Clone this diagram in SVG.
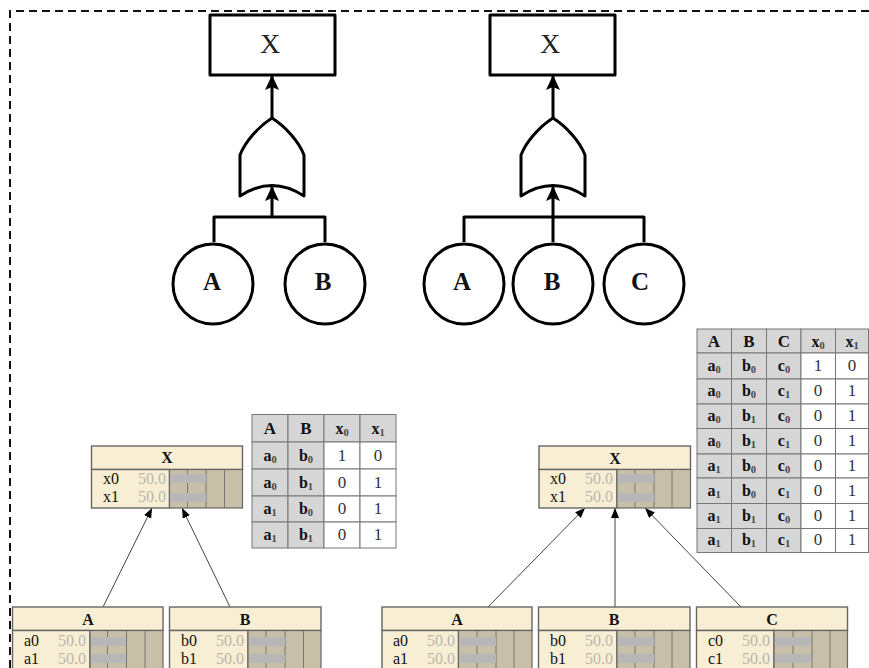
<svg xmlns="http://www.w3.org/2000/svg" width="869" height="668" viewBox="0 0 869 668">
<style>
text{font-family:"Liberation Serif","Times New Roman",serif;fill:#111}
.frame{fill:none;stroke:#111;stroke-width:2;stroke-dasharray:8 5}
.thick{fill:none;stroke:#000;stroke-width:3;stroke-linejoin:round}
.box{fill:#fff;stroke:#000;stroke-width:3;stroke-linejoin:round}
.big{font-size:28px;text-anchor:middle;fill:#222}
.ev{font-size:25px;font-weight:bold;text-anchor:middle}
.thin{fill:none;stroke:#444;stroke-width:1}
.head{fill:#f8eed3;stroke:#666;stroke-width:1.4}
.body{fill:#f8eed3;stroke:#666;stroke-width:1.4}
.panel{fill:#c7bfa7;stroke:#666;stroke-width:1.2}
.bar{fill:#b7b7b7}
.grid{stroke:#777;stroke-width:1}
.nt{font-size:16px;font-weight:bold;text-anchor:middle}
.st{font-size:16px}
.val{font-size:16px;text-anchor:end;fill:#b8b6ae}
.g{fill:#d6d6d6;stroke:#777;stroke-width:1}
.w{fill:#fff;stroke:#777;stroke-width:1}
.th{font-size:17px;font-weight:bold;text-anchor:middle}
.td{font-size:16px;font-weight:bold;text-anchor:middle}
.n{font-size:17px;text-anchor:middle;fill:#333}
.s{font-size:10.5px;fill:#444}
</style>
<defs>
<marker id="big" markerUnits="userSpaceOnUse" markerWidth="16" markerHeight="16" refX="14" refY="7" orient="auto"><path d="M0 0L15 7L0 14L3 7Z" fill="#000"/></marker>
<marker id="small" markerUnits="userSpaceOnUse" markerWidth="12" markerHeight="10" refX="10" refY="4" orient="auto"><path d="M0 0L10 4L0 8Z" fill="#000"/></marker>
<g id="orgate"><path class="box" d="M0 0C-14 9-27 24-32 37V78Q0 57 32 78V37C27 24 14 9 0 0Z"/></g>
</defs>
<rect width="869" height="668" fill="#fff"/>
<path class="frame" d="M869 11H10V668"/>

<g id="connectors">
<path class="thick" d="M272 118V76" marker-end="url(#big)"/>
<path class="thick" d="M272 217V187" marker-end="url(#big)"/>
<path class="thick" d="M214 242V217H325V242"/>
<path class="thick" d="M553 118V76" marker-end="url(#big)"/>
<path class="thick" d="M553 217V187" marker-end="url(#big)"/>
<path class="thick" d="M464 242V217H644V242M553 217V242"/>
<path class="thin" d="M103 607L152 508" marker-end="url(#small)"/>
<path class="thin" d="M230 607L182 508" marker-end="url(#small)"/>
<path class="thin" d="M488 607L585 508" marker-end="url(#small)"/>
<path class="thin" d="M615 607V508" marker-end="url(#small)"/>
<path class="thin" d="M741 607L645 508" marker-end="url(#small)"/>
</g>

<g id="fault-x-left"><rect class="box" x="210" y="15" width="125" height="60"/><text class="big" x="270" y="53">X</text></g>
<g id="fault-gate-left"><use href="#orgate" x="272" y="118"/></g>
<g id="fault-a-left"><circle class="box" cx="213" cy="284" r="40"/><text class="ev" x="212" y="290">A</text></g>
<g id="fault-b-left"><circle class="box" cx="325" cy="284" r="40"/><text class="ev" x="323" y="290">B</text></g>

<g id="fault-x-right"><rect class="box" x="490" y="15" width="125" height="60"/><text class="big" x="550" y="53">X</text></g>
<g id="fault-gate-right"><use href="#orgate" x="553" y="118"/></g>
<g id="fault-a-right"><circle class="box" cx="464" cy="284" r="40"/><text class="ev" x="462" y="290">A</text></g>
<g id="fault-b-right"><circle class="box" cx="553" cy="284" r="40"/><text class="ev" x="552" y="290">B</text></g>
<g id="fault-c-right"><circle class="box" cx="644" cy="284" r="40"/><text class="ev" x="640" y="290">C</text></g>

<g id="bn-x-left">
<rect class="head" x="91.500" y="446" width="151" height="23.500"/><rect class="body" x="91.500" y="469.500" width="78" height="38.500"/><rect class="panel" x="169.500" y="469.500" width="73" height="38.500"/>
<path class="grid" d="M187.500 470V508M206 470V508M224.500 470V508"/><rect class="bar" x="170" y="474" width="36" height="9"/><rect class="bar" x="170" y="493" width="36" height="9"/>
<text class="nt" x="167" y="463">X</text><text class="st" x="103" y="484">x0</text><text class="st" x="103" y="502">x1</text><text class="val" x="166" y="484">50.0</text><text class="val" x="166" y="502">50.0</text>
</g>
<g id="bn-a-left">
<rect class="head" x="12.500" y="607" width="150.500" height="23.500"/><rect class="body" x="12.500" y="630.500" width="77.500" height="45"/><rect class="panel" x="90" y="630.500" width="73" height="45"/>
<path class="grid" d="M107.500 631V668M126.500 631V668M145 631V668"/><rect class="bar" x="91" y="637" width="35" height="9"/><rect class="bar" x="91" y="654" width="35" height="9"/>
<text class="nt" x="88" y="625">A</text><text class="st" x="24" y="646">a0</text><text class="st" x="24" y="664">a1</text><text class="val" x="86" y="646">50.0</text><text class="val" x="86" y="664">50.0</text>
</g>
<g id="bn-b-left">
<rect class="head" x="169.500" y="607" width="151.500" height="23.500"/><rect class="body" x="169.500" y="630.500" width="78.500" height="45"/><rect class="panel" x="248" y="630.500" width="73" height="45"/>
<path class="grid" d="M266 631V668M285 631V668M303.500 631V668"/><rect class="bar" x="249" y="637" width="36" height="9"/><rect class="bar" x="249" y="654" width="36" height="9"/>
<text class="nt" x="245" y="625">B</text><text class="st" x="181" y="646">b0</text><text class="st" x="181" y="664">b1</text><text class="val" x="244" y="646">50.0</text><text class="val" x="244" y="664">50.0</text>
</g>

<g id="bn-x-right">
<rect class="head" x="539" y="446" width="151.500" height="23.500"/><rect class="body" x="539" y="469.500" width="78" height="38.500"/><rect class="panel" x="617" y="469.500" width="73.500" height="38.500"/>
<path class="grid" d="M635 470V508M654 470V508M672 470V508"/><rect class="bar" x="618" y="474" width="36" height="9"/><rect class="bar" x="618" y="493" width="36" height="9"/>
<text class="nt" x="615" y="464">X</text><text class="st" x="550" y="484">x0</text><text class="st" x="550" y="502">x1</text><text class="val" x="613" y="484">50.0</text><text class="val" x="613" y="502">50.0</text>
</g>
<g id="bn-a-right">
<rect class="head" x="382" y="607" width="150" height="23.500"/><rect class="body" x="382" y="630.500" width="76.500" height="45"/><rect class="panel" x="458.500" y="630.500" width="73.500" height="45"/>
<path class="grid" d="M477 631V668M496 631V668M514 631V668"/><rect class="bar" x="460" y="637" width="36" height="9"/><rect class="bar" x="460" y="654" width="36" height="9"/>
<text class="nt" x="457" y="625">A</text><text class="st" x="393" y="646">a0</text><text class="st" x="393" y="664">a1</text><text class="val" x="455" y="646">50.0</text><text class="val" x="455" y="664">50.0</text>
</g>
<g id="bn-b-right">
<rect class="head" x="538.500" y="607" width="151.500" height="23.500"/><rect class="body" x="538.500" y="630.500" width="78.500" height="45"/><rect class="panel" x="617" y="630.500" width="73" height="45"/>
<path class="grid" d="M635 631V668M654 631V668M672 631V668"/><rect class="bar" x="618" y="637" width="36" height="9"/><rect class="bar" x="618" y="654" width="36" height="9"/>
<text class="nt" x="614" y="625">B</text><text class="st" x="550" y="646">b0</text><text class="st" x="550" y="664">b1</text><text class="val" x="613" y="646">50.0</text><text class="val" x="613" y="664">50.0</text>
</g>
<g id="bn-c-right">
<rect class="head" x="696.500" y="607" width="151" height="23.500"/><rect class="body" x="696.500" y="630.500" width="77.500" height="45"/><rect class="panel" x="774" y="630.500" width="73.500" height="45"/>
<path class="grid" d="M793 631V668M812 631V668M830 631V668"/><rect class="bar" x="775" y="637" width="36" height="9"/><rect class="bar" x="775" y="654" width="36" height="9"/>
<text class="nt" x="772" y="625">C</text><text class="st" x="708" y="646">c0</text><text class="st" x="708" y="664">c1</text><text class="val" x="770" y="646">50.0</text><text class="val" x="770" y="664">50.0</text>
</g>

<g id="table-left">
<rect class="g" x="252" y="414.500" width="36" height="27.500"/><rect class="g" x="288" y="414.500" width="36" height="27.500"/><rect class="g" x="324" y="414.500" width="36" height="27.500"/><rect class="g" x="360" y="414.500" width="36" height="27.500"/>
<rect class="g" x="252" y="442" width="36" height="27"/><rect class="g" x="288" y="442" width="36" height="27"/><rect class="w" x="324" y="442" width="36" height="27"/><rect class="w" x="360" y="442" width="36" height="27"/>
<rect class="g" x="252" y="469" width="36" height="27"/><rect class="g" x="288" y="469" width="36" height="27"/><rect class="w" x="324" y="469" width="36" height="27"/><rect class="w" x="360" y="469" width="36" height="27"/>
<rect class="g" x="252" y="496" width="36" height="26"/><rect class="g" x="288" y="496" width="36" height="26"/><rect class="w" x="324" y="496" width="36" height="26"/><rect class="w" x="360" y="496" width="36" height="26"/>
<rect class="g" x="252" y="522" width="36" height="26"/><rect class="g" x="288" y="522" width="36" height="26"/><rect class="w" x="324" y="522" width="36" height="26"/><rect class="w" x="360" y="522" width="36" height="26"/>
<text class="th" x="270" y="434">A</text><text class="th" x="306" y="434">B</text><text class="td" x="342" y="434">x<tspan class="s" dy="2">0</tspan></text><text class="td" x="378" y="434">x<tspan class="s" dy="2">1</tspan></text>
<text class="td" x="270" y="461">a<tspan class="s" dy="2">0</tspan></text><text class="td" x="306" y="461">b<tspan class="s" dy="2">0</tspan></text><text class="n" x="342" y="461">1</text><text class="n" x="378" y="461">0</text>
<text class="td" x="270" y="488">a<tspan class="s" dy="2">0</tspan></text><text class="td" x="306" y="488">b<tspan class="s" dy="2">1</tspan></text><text class="n" x="342" y="488">0</text><text class="n" x="378" y="488">1</text>
<text class="td" x="270" y="514">a<tspan class="s" dy="2">1</tspan></text><text class="td" x="306" y="514">b<tspan class="s" dy="2">0</tspan></text><text class="n" x="342" y="514">0</text><text class="n" x="378" y="514">1</text>
<text class="td" x="270" y="540">a<tspan class="s" dy="2">1</tspan></text><text class="td" x="306" y="540">b<tspan class="s" dy="2">1</tspan></text><text class="n" x="342" y="540">0</text><text class="n" x="378" y="540">1</text>
</g>

<g id="table-right">
<rect class="g" x="697" y="329" width="34.500" height="24"/><rect class="g" x="731.500" y="329" width="35" height="24"/><rect class="g" x="766.500" y="329" width="34.500" height="24"/><rect class="g" x="801" y="329" width="34.500" height="24"/><rect class="g" x="835.500" y="329" width="33" height="24"/>
<rect class="g" x="697" y="353" width="34.500" height="26"/><rect class="g" x="731.500" y="353" width="35" height="26"/><rect class="g" x="766.500" y="353" width="34.500" height="26"/><rect class="w" x="801" y="353" width="34.500" height="26"/><rect class="w" x="835.500" y="353" width="33" height="26"/>
<rect class="g" x="697" y="379" width="34.500" height="25"/><rect class="g" x="731.500" y="379" width="35" height="25"/><rect class="g" x="766.500" y="379" width="34.500" height="25"/><rect class="w" x="801" y="379" width="34.500" height="25"/><rect class="w" x="835.500" y="379" width="33" height="25"/>
<rect class="g" x="697" y="404" width="34.500" height="24.500"/><rect class="g" x="731.500" y="404" width="35" height="24.500"/><rect class="g" x="766.500" y="404" width="34.500" height="24.500"/><rect class="w" x="801" y="404" width="34.500" height="24.500"/><rect class="w" x="835.500" y="404" width="33" height="24.500"/>
<rect class="g" x="697" y="428.500" width="34.500" height="25.500"/><rect class="g" x="731.500" y="428.500" width="35" height="25.500"/><rect class="g" x="766.500" y="428.500" width="34.500" height="25.500"/><rect class="w" x="801" y="428.500" width="34.500" height="25.500"/><rect class="w" x="835.500" y="428.500" width="33" height="25.500"/>
<rect class="g" x="697" y="454" width="34.500" height="24"/><rect class="g" x="731.500" y="454" width="35" height="24"/><rect class="g" x="766.500" y="454" width="34.500" height="24"/><rect class="w" x="801" y="454" width="34.500" height="24"/><rect class="w" x="835.500" y="454" width="33" height="24"/>
<rect class="g" x="697" y="478" width="34.500" height="25.500"/><rect class="g" x="731.500" y="478" width="35" height="25.500"/><rect class="g" x="766.500" y="478" width="34.500" height="25.500"/><rect class="w" x="801" y="478" width="34.500" height="25.500"/><rect class="w" x="835.500" y="478" width="33" height="25.500"/>
<rect class="g" x="697" y="503.500" width="34.500" height="25"/><rect class="g" x="731.500" y="503.500" width="35" height="25"/><rect class="g" x="766.500" y="503.500" width="34.500" height="25"/><rect class="w" x="801" y="503.500" width="34.500" height="25"/><rect class="w" x="835.500" y="503.500" width="33" height="25"/>
<rect class="g" x="697" y="528.500" width="34.500" height="24"/><rect class="g" x="731.500" y="528.500" width="35" height="24"/><rect class="g" x="766.500" y="528.500" width="34.500" height="24"/><rect class="w" x="801" y="528.500" width="34.500" height="24"/><rect class="w" x="835.500" y="528.500" width="33" height="24"/>
<text class="th" x="714" y="347">A</text><text class="th" x="749" y="347">B</text><text class="th" x="784" y="347">C</text><text class="td" x="818" y="347">x<tspan class="s" dy="2">0</tspan></text><text class="td" x="852" y="347">x<tspan class="s" dy="2">1</tspan></text>
<text class="td" x="714" y="371">a<tspan class="s" dy="2">0</tspan></text><text class="td" x="749" y="371">b<tspan class="s" dy="2">0</tspan></text><text class="td" x="784" y="371">c<tspan class="s" dy="2">0</tspan></text><text class="n" x="818" y="371">1</text><text class="n" x="852" y="371">0</text>
<text class="td" x="714" y="396">a<tspan class="s" dy="2">0</tspan></text><text class="td" x="749" y="396">b<tspan class="s" dy="2">0</tspan></text><text class="td" x="784" y="396">c<tspan class="s" dy="2">1</tspan></text><text class="n" x="818" y="396">0</text><text class="n" x="852" y="396">1</text>
<text class="td" x="714" y="421">a<tspan class="s" dy="2">0</tspan></text><text class="td" x="749" y="421">b<tspan class="s" dy="2">1</tspan></text><text class="td" x="784" y="421">c<tspan class="s" dy="2">0</tspan></text><text class="n" x="818" y="421">0</text><text class="n" x="852" y="421">1</text>
<text class="td" x="714" y="446">a<tspan class="s" dy="2">0</tspan></text><text class="td" x="749" y="446">b<tspan class="s" dy="2">1</tspan></text><text class="td" x="784" y="446">c<tspan class="s" dy="2">1</tspan></text><text class="n" x="818" y="446">0</text><text class="n" x="852" y="446">1</text>
<text class="td" x="714" y="471">a<tspan class="s" dy="2">1</tspan></text><text class="td" x="749" y="471">b<tspan class="s" dy="2">0</tspan></text><text class="td" x="784" y="471">c<tspan class="s" dy="2">0</tspan></text><text class="n" x="818" y="471">0</text><text class="n" x="852" y="471">1</text>
<text class="td" x="714" y="496">a<tspan class="s" dy="2">1</tspan></text><text class="td" x="749" y="496">b<tspan class="s" dy="2">0</tspan></text><text class="td" x="784" y="496">c<tspan class="s" dy="2">1</tspan></text><text class="n" x="818" y="496">0</text><text class="n" x="852" y="496">1</text>
<text class="td" x="714" y="521">a<tspan class="s" dy="2">1</tspan></text><text class="td" x="749" y="521">b<tspan class="s" dy="2">1</tspan></text><text class="td" x="784" y="521">c<tspan class="s" dy="2">0</tspan></text><text class="n" x="818" y="521">0</text><text class="n" x="852" y="521">1</text>
<text class="td" x="714" y="545">a<tspan class="s" dy="2">1</tspan></text><text class="td" x="749" y="545">b<tspan class="s" dy="2">1</tspan></text><text class="td" x="784" y="545">c<tspan class="s" dy="2">1</tspan></text><text class="n" x="818" y="545">0</text><text class="n" x="852" y="545">1</text>
</g>
</svg>
